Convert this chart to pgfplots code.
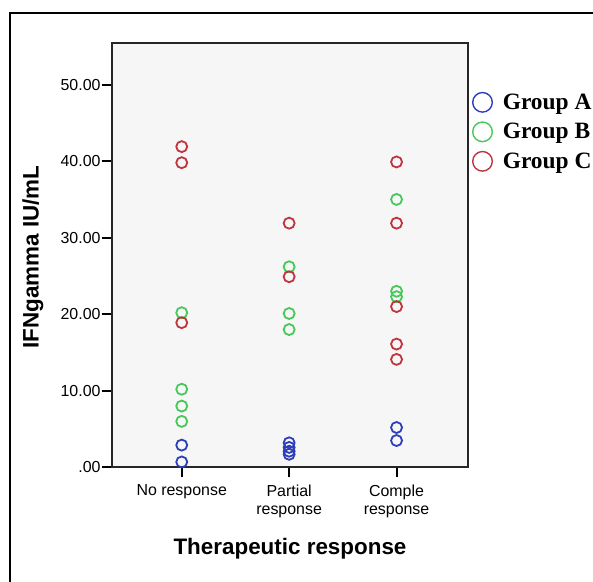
\documentclass[border=0pt]{standalone}
\usepackage{fontspec}
\setmainfont{Liberation Sans}
\newfontfamily\legfont{Liberation Serif}
\usepackage{pgfplots}
\pgfplotsset{compat=1.18}
\definecolor{grpA}{RGB}{45,62,185}
\definecolor{grpB}{RGB}{70,200,90}
\definecolor{grpC}{RGB}{192,52,62}
\definecolor{plotbg}{RGB}{246,246,246}

\begin{document}
\begin{tikzpicture}
\useasboundingbox (0,0) rectangle (593bp,-582bp);
% outer frame, right and bottom edges fall off the page
\draw[line width=2.2bp] (10bp,-12.7bp) rectangle (640bp,-640bp);
\begin{axis}[
    at={(111.7bp,-467.3bp)}, anchor=south west,
    scale only axis, width=356.6bp, height=424bp,
    xmin=-0.652, xmax=2.668, ymin=0, ymax=55.4,
    axis background/.style={fill=plotbg},
    axis line style={line width=2.2bp, black!85},
    xtick={0,1,2},
    xticklabels={No response, Partial\\response, Comple\\response},
    ytick={0,10,20,30,40,50},
    yticklabels={.00,10.00,20.00,30.00,40.00,50.00},
    tick align=outside, xtick pos=bottom, ytick pos=left,
    major tick length=10bp,
    tick style={line width=2bp, black},
    font=\fontsize{16}{18.6}\selectfont,
    xticklabel style={align=center, yshift=-4bp},
    yticklabel style={inner sep=1bp},
    xlabel={Therapeutic response},
    ylabel={IFNgamma IU/mL},
    every axis x label/.style={at={(axis description cs:0.5,-0.191)}, anchor=center,
        font=\fontsize{22.5}{26}\selectfont\bfseries},
    every axis y label/.style={at={(axis description cs:-0.2207,0.496)}, rotate=90, anchor=center,
        font=\fontsize{22.5}{26}\selectfont\bfseries},
    every axis plot/.append style={only marks, mark=o, mark size=5.5bp, line width=1.8bp},
    legend style={at={(axis description cs:1.0,0.899)}, anchor=north west,
        xshift=4.2bp, yshift=-5.5bp,
        draw=none, fill=none, inner sep=0pt, row sep=8.5bp, column sep=8.5bp,
        nodes={inner sep=2bp},
        font=\legfont\fontsize{23.5}{25}\selectfont\bfseries},
    legend cell align=left,
    legend image code/.code={\draw[#1, line width=1.4bp, mark size=9.8bp] plot coordinates {(0bp,0bp)};},
]
\addplot[color=grpA] coordinates {
    (0,2.9) (0,0.7)
    (1,3.2) (1,2.6) (1,2.1) (1,1.7)
    (2,5.2) (2,3.5)
};
\addlegendentry{Group A}
\addplot[color=grpB] coordinates {
    (0,20.2) (0,10.2) (0,8.0) (0,6.0)
    (1,26.2) (1,20.1) (1,18.0)
    (2,35.0) (2,23.0) (2,22.3)
};
\addlegendentry{Group B}
\addplot[color=grpC] coordinates {
    (0,41.9) (0,39.8) (0,18.9)
    (1,31.9) (1,24.9)
    (2,39.9) (2,31.9) (2,21.0) (2,16.1) (2,14.1)
};
\addlegendentry{Group C}
\end{axis}
\end{tikzpicture}
\end{document}
